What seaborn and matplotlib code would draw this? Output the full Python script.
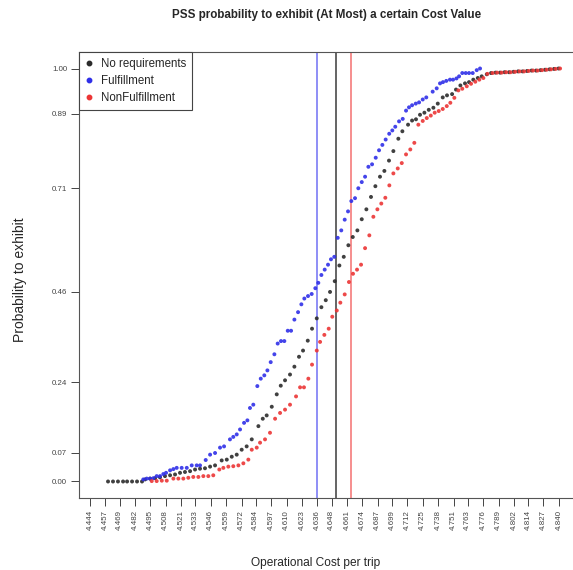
import numpy as np
import pandas as pd
import matplotlib
matplotlib.use('Agg')
import matplotlib.pyplot as plt
import seaborn as sns
from matplotlib.lines import Line2D

# values
none_cost = [4.4592, 4.4634, 4.4676, 4.4719, 4.4753, 4.4795, 4.4837, 4.4879,
             4.4905, 4.4947, 4.4989, 4.5031, 4.5073, 4.5116, 4.5158, 4.5200,
             4.5242, 4.5285, 4.5327, 4.5369, 4.5411, 4.5454, 4.5496, 4.5552,
             4.5595, 4.5637, 4.5679, 4.5721, 4.5763, 4.5806, 4.5862, 4.5899,
             4.5932, 4.5975, 4.6017, 4.6051, 4.6087, 4.6129, 4.6166, 4.6205,
             4.6239, 4.6279, 4.6315, 4.6355, 4.6394, 4.6431, 4.6467, 4.6507,
             4.6546, 4.6583, 4.6622, 4.6659, 4.6698, 4.6735, 4.6774, 4.6813,
             4.6850, 4.6889, 4.6926, 4.6965, 4.7002, 4.7044, 4.7078, 4.7126,
             4.7160, 4.7193, 4.7227, 4.7264, 4.7301, 4.7340, 4.7377, 4.7419,
             4.7455, 4.7498, 4.7531, 4.7568, 4.7607, 4.7641, 4.7677, 4.7715,
             4.7748, 4.7791, 4.7827, 4.7865, 4.7903, 4.7941, 4.7979, 4.8017,
             4.8055, 4.8093, 4.8131, 4.8169, 4.8207, 4.8245, 4.8283, 4.8321,
             4.8359, 4.8397]
none_prob = [0.000, 0.000, 0.000, 0.000, 0.000, 0.000, 0.000, 0.000,
             0.005, 0.007, 0.008, 0.010, 0.013, 0.015, 0.017, 0.021,
             0.023, 0.025, 0.029, 0.031, 0.032, 0.036, 0.039, 0.051,
             0.053, 0.060, 0.065, 0.077, 0.085, 0.102, 0.134, 0.152,
             0.160, 0.181, 0.211, 0.232, 0.245, 0.259, 0.278, 0.302,
             0.317, 0.341, 0.370, 0.395, 0.422, 0.439, 0.459, 0.485,
             0.523, 0.544, 0.572, 0.592, 0.608, 0.635, 0.659, 0.689,
             0.715, 0.738, 0.752, 0.777, 0.800, 0.830, 0.848, 0.864,
             0.874, 0.877, 0.888, 0.893, 0.900, 0.905, 0.915, 0.930,
             0.935, 0.938, 0.949, 0.959, 0.964, 0.967, 0.973, 0.977,
             0.981, 0.986, 0.989, 0.990, 0.990, 0.991, 0.991, 0.992,
             0.993, 0.993, 0.994, 0.995, 0.995, 0.996, 0.997, 0.998,
             0.999, 1.000]

ful_cost = [4.4890, 4.4919, 4.4947, 4.4975, 4.5003, 4.5031, 4.5059, 4.5082,
            4.5116, 4.5144, 4.5172, 4.5214, 4.5257, 4.5299, 4.5341, 4.5369,
            4.5417, 4.5454, 4.5496, 4.5538, 4.5572, 4.5622, 4.5650, 4.5679,
            4.5707, 4.5741, 4.5769, 4.5791, 4.5819, 4.5853, 4.5882, 4.5912,
            4.5938, 4.5966, 4.5997, 4.6025, 4.6053, 4.6081, 4.6110, 4.6138,
            4.6166, 4.6197, 4.6225, 4.6250, 4.6281, 4.6312, 4.6343, 4.6368,
            4.6394, 4.6422, 4.6450, 4.6475, 4.6503, 4.6532, 4.6562, 4.6591,
            4.6619, 4.6647, 4.6678, 4.6706, 4.6735, 4.6763, 4.6791, 4.6822,
            4.6853, 4.6881, 4.6909, 4.6937, 4.6967, 4.6993, 4.7018, 4.7050,
            4.7081, 4.7109, 4.7134, 4.7160, 4.7191, 4.7219, 4.7250, 4.7280,
            4.7334, 4.7368, 4.7396, 4.7421, 4.7449, 4.7480, 4.7506, 4.7535,
            4.7557, 4.7584, 4.7613, 4.7641, 4.7672, 4.7706, 4.7734]
ful_prob = [0.005, 0.007, 0.007, 0.008, 0.013, 0.013, 0.018, 0.021,
            0.027, 0.030, 0.033, 0.033, 0.033, 0.039, 0.039, 0.039,
            0.052, 0.065, 0.069, 0.082, 0.085, 0.102, 0.108, 0.114,
            0.126, 0.142, 0.148, 0.178, 0.186, 0.231, 0.249, 0.257,
            0.269, 0.289, 0.308, 0.334, 0.340, 0.340, 0.365, 0.365,
            0.392, 0.410, 0.429, 0.443, 0.449, 0.454, 0.468, 0.481,
            0.500, 0.513, 0.525, 0.538, 0.544, 0.590, 0.608, 0.634,
            0.654, 0.679, 0.686, 0.710, 0.725, 0.738, 0.762, 0.768,
            0.784, 0.802, 0.815, 0.828, 0.842, 0.850, 0.859, 0.872,
            0.878, 0.898, 0.906, 0.911, 0.915, 0.918, 0.925, 0.930,
            0.944, 0.952, 0.964, 0.967, 0.970, 0.973, 0.973, 0.976,
            0.981, 0.989, 0.989, 0.989, 0.989, 0.996, 1.000]

nonful_cost = [4.4961, 4.5003, 4.5046, 4.5088, 4.5144, 4.5186, 4.5228, 4.5270,
               4.5312, 4.5355, 4.5397, 4.5439, 4.5481, 4.5532, 4.5566, 4.5608,
               4.5650, 4.5693, 4.5735, 4.5777, 4.5806, 4.5848, 4.5876, 4.5918,
               4.5960, 4.6003, 4.6045, 4.6087, 4.6129, 4.6180, 4.6214, 4.6247,
               4.6284, 4.6315, 4.6355, 4.6383, 4.6419, 4.6456, 4.6486, 4.6524,
               4.6554, 4.6591, 4.6627, 4.6661, 4.6695, 4.6729, 4.6763, 4.6799,
               4.6833, 4.6867, 4.6900, 4.6934, 4.6968, 4.7002, 4.7039, 4.7073,
               4.7109, 4.7145, 4.7179, 4.7213, 4.7250, 4.7284, 4.7318, 4.7351,
               4.7385, 4.7419, 4.7453, 4.7483, 4.7517, 4.7551, 4.7584, 4.7622,
               4.7658, 4.7694, 4.7728, 4.7762, 4.7796, 4.7840, 4.7878, 4.7916,
               4.7954, 4.7992, 4.8030, 4.8068, 4.8106, 4.8144, 4.8182, 4.8220,
               4.8258, 4.8296, 4.8334, 4.8372, 4.8410]
nonful_prob = [0.001, 0.001, 0.002, 0.002, 0.007, 0.007, 0.007, 0.009,
               0.011, 0.011, 0.013, 0.013, 0.015, 0.029, 0.033, 0.036,
               0.037, 0.039, 0.044, 0.053, 0.077, 0.082, 0.094, 0.102,
               0.118, 0.152, 0.166, 0.174, 0.186, 0.206, 0.228, 0.228,
               0.249, 0.283, 0.317, 0.338, 0.355, 0.370, 0.399, 0.414,
               0.433, 0.453, 0.483, 0.503, 0.513, 0.525, 0.565, 0.596,
               0.641, 0.659, 0.673, 0.687, 0.717, 0.746, 0.758, 0.771,
               0.792, 0.804, 0.820, 0.864, 0.873, 0.880, 0.886, 0.893,
               0.897, 0.902, 0.909, 0.917, 0.929, 0.947, 0.951, 0.957,
               0.963, 0.968, 0.973, 0.977, 0.987, 0.989, 0.990, 0.990,
               0.991, 0.991, 0.992, 0.993, 0.993, 0.994, 0.995, 0.995,
               0.996, 0.997, 0.998, 0.999, 1.000]

groups = ['No requirements', 'Fulfillment', 'NonFulfillment']
mean_cost = [4.652, 4.636, 4.664]
dot_colors = ['#2b2b2b', '#2f2fe8', '#ec3535']
line_colors = ['#4a4a4a', '#7c7cf5', '#f57c7c']

xticks = [4.444, 4.457, 4.469, 4.482, 4.495, 4.508, 4.521, 4.533, 4.546, 4.559,
          4.572, 4.584, 4.597, 4.610, 4.623, 4.636, 4.648, 4.661, 4.674, 4.687,
          4.699, 4.712, 4.725, 4.738, 4.751, 4.763, 4.776, 4.789, 4.802, 4.814,
          4.827, 4.840]
yticks = [0.00, 0.07, 0.24, 0.46, 0.71, 0.89, 1.00]

df = pd.concat([
    pd.DataFrame({'cost': none_cost, 'prob': none_prob, 'group': groups[0]}),
    pd.DataFrame({'cost': ful_cost, 'prob': ful_prob, 'group': groups[1]}),
    pd.DataFrame({'cost': nonful_cost, 'prob': nonful_prob, 'group': groups[2]}),
], ignore_index=True)

sns.set_style('white')
plt.rcParams['font.family'] = ['Liberation Sans', 'DejaVu Sans']

fig = plt.figure(figsize=(5.73, 5.70), dpi=100)
ax = fig.add_axes([0.1379, 0.1263, 0.90, 0.7825])

for m, c in zip(mean_cost, line_colors):
    ax.axvline(m, color=c, lw=1.2, zorder=1)

sns.scatterplot(data=df, x='cost', y='prob', hue='group', hue_order=groups,
                palette=dict(zip(groups, dot_colors)), s=8, linewidth=0,
                alpha=0.9, legend=False, ax=ax, zorder=3)

ax.set_xlim(4.4347, 4.4347 + 0.90 * 573 / 1184)
ax.set_ylim(-0.04, 1.04)
ax.set_xticks(xticks)
ax.set_xticklabels([f'{v:.3f}' for v in xticks], rotation=90)
ax.set_yticks(yticks)
ax.set_yticklabels([f'{v:.2f}' for v in yticks])
ax.tick_params(axis='both', labelsize=5.7, labelcolor='#444444', color='#444444',
               length=5.5, width=0.7, direction='out', bottom=True, left=True, pad=3)
for side in ['left', 'bottom', 'top']:
    ax.spines[side].set_color('#555555')
    ax.spines[side].set_linewidth(0.8)
ax.spines['right'].set_visible(False)
ax.set_xlabel('')
ax.set_ylabel('')

handles = [Line2D([], [], marker='o', ls='', color=c, markersize=3.2) for c in dot_colors]
leg = ax.legend(handles, groups, loc='upper left', bbox_to_anchor=(0, 1),
                borderaxespad=0, fancybox=False, fontsize=8.3, handlelength=0.8,
                handletextpad=0.6, labelspacing=0.45, borderpad=0.5, framealpha=1)
leg.get_frame().set_edgecolor('#444444')
leg.get_frame().set_linewidth(0.8)

fig.text(327 / 573, 1 - 15 / 570, 'PSS probability to exhibit (At Most) a certain Cost Value',
         ha='center', va='center', fontsize=8.4, fontweight='bold')
fig.text(20 / 573, 1 - 280 / 570, 'Probability to exhibit', rotation=90,
         ha='center', va='center', fontsize=10)
fig.text(316 / 573, 1 - 563 / 570, 'Operational Cost per trip',
         ha='center', va='center', fontsize=8.6)

fig.savefig('out.png', dpi=100)
